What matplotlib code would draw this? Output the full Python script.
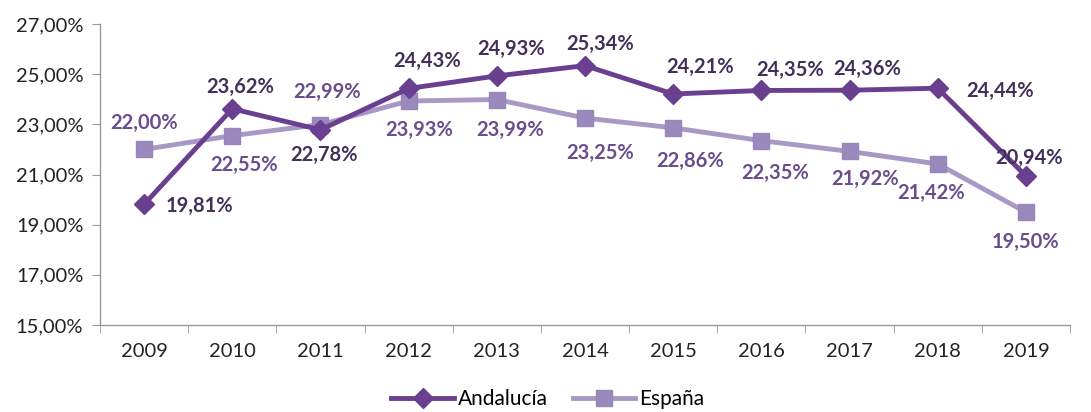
import matplotlib
matplotlib.use("Agg")
import matplotlib.pyplot as plt
from matplotlib.ticker import FixedLocator, FuncFormatter

plt.rcParams["font.family"] = ["Lato", "DejaVu Sans"]

years = ["2009", "2010", "2011", "2012", "2013", "2014", "2015", "2016", "2017", "2018", "2019"]
andalucia = [19.81, 23.62, 22.78, 24.43, 24.93, 25.34, 24.21, 24.35, 24.36, 24.44, 20.94]
espana = [22.00, 22.55, 22.99, 23.93, 23.99, 23.25, 22.86, 22.35, 21.92, 21.42, 19.50]

# label offsets in pixels (dx, dy), picked to match the reference placement
and_off = [(55, -2), (8, 22), (4, -25), (18, 27), (14, 27), (15, 22), (27, 27), (29, 21), (18, 21), (62, -3), (3, 18)]
esp_off = [(0, 26), (12, -29), (7, 33), (11, -29), (13, -30), (15, -35), (17, -33), (14, -32), (16, -28), (-7, -29), (0, -30)]

c_and = "#6a3f8f"
c_esp = "#a898c6"
t_and = "#43305a"
t_esp = "#6a4d8c"

fig = plt.figure(figsize=(10.91, 4.12), dpi=100)
ax = fig.add_axes([100 / 1091, 87 / 412, 970 / 1091, 301 / 412])

x = list(range(len(years)))
ax.plot(x, andalucia, color=c_and, lw=3.5, marker="D", ms=10, mec=c_and, mfc=c_and,
        label="Andalucía", zorder=3)
ax.plot(x, espana, color=c_esp, lw=3.5, marker="s", ms=11, mec="#9787b8", mfc="#9a89bd",
        label="España", zorder=2)

for i, v in enumerate(andalucia):
    dx, dy = and_off[i]
    ax.annotate(f"{v:.2f}%".replace(".", ","), (i, v), xytext=(dx * 0.72, dy * 0.72),
                textcoords="offset points", ha="center", va="center",
                fontsize=14.5, fontweight="bold", color=t_and)
for i, v in enumerate(espana):
    dx, dy = esp_off[i]
    ax.annotate(f"{v:.2f}%".replace(".", ","), (i, v), xytext=(dx * 0.72, dy * 0.72),
                textcoords="offset points", ha="center", va="center",
                fontsize=14.5, fontweight="bold", color=t_esp)

ax.set_xlim(-0.5, len(years) - 0.5)
ax.set_ylim(15, 27)
ax.set_yticks([15, 17, 19, 21, 23, 25, 27])
ax.yaxis.set_major_formatter(FuncFormatter(lambda v, p: f"{v:.2f}%".replace(".", ",")))
ax.set_xticks(x)
ax.set_xticklabels(years)
ax.xaxis.set_minor_locator(FixedLocator([i - 0.5 for i in range(len(years) + 1)]))
ax.tick_params(axis="x", which="major", length=0, pad=13, labelsize=14.5, colors="#222222")
ax.tick_params(axis="x", which="minor", length=6, color="#999999", direction="out")
ax.tick_params(axis="y", length=6, color="#999999", pad=6, labelsize=14.5, labelcolor="#222222")

for s in ["top", "right"]:
    ax.spines[s].set_visible(False)
for s in ["left", "bottom"]:
    ax.spines[s].set_color("#999999")
    ax.spines[s].set_linewidth(1)

fig.legend(loc="center", bbox_to_anchor=(548 / 1091, 13 / 412), ncol=2, frameon=False,
           fontsize=15, handlelength=3, columnspacing=1.2, handletextpad=0.2)

fig.savefig("out.png", dpi=100)
